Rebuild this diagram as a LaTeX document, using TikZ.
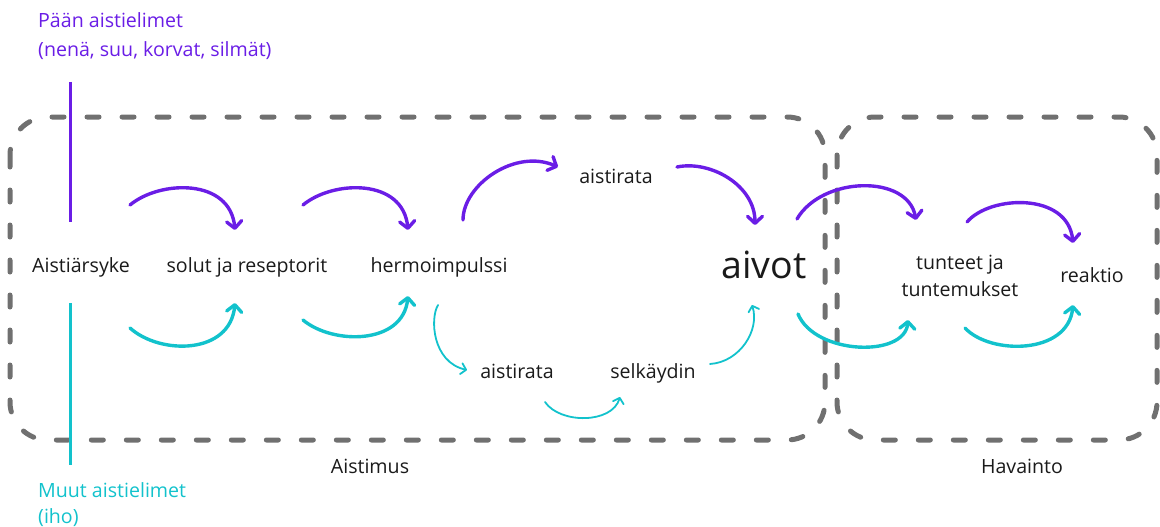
\documentclass[tikz,border=0pt]{standalone}
\usepackage{fontspec}
\setmainfont{Open Sans}
\usetikzlibrary{arrows.meta}
\definecolor{vio}{HTML}{6A1DE6}
\definecolor{cya}{HTML}{12C2CC}
\definecolor{boxgray}{HTML}{707070}
\definecolor{txt}{HTML}{1A1A1A}
\begin{document}
\begin{tikzpicture}[x=1pt,y=-1pt,
  lbl/.style={font=\fontsize{19.6}{27}\selectfont, text=txt, inner sep=0pt, anchor=base},
  dashbox/.style={draw=boxgray, line width=5pt, line cap=round, dash pattern=on 12pt off 23pt, rounded corners=38pt},
  parr/.style={draw=vio, line width=3.4pt, line cap=round, -{Straight Barb[length=7pt,width=15pt,round]}},
  carr/.style={draw=cya, line width=3.4pt, line cap=round, -{Straight Barb[length=7pt,width=15pt,round]}},
  tarr/.style={draw=cya, line width=1.8pt, line cap=round, -{Straight Barb[length=5pt,width=11pt,round]}},
  vline/.style={line width=3pt}]
\useasboundingbox (0,0) rectangle (1160,527);

% boxes
\draw[dashbox] (10,117) rectangle (825,440);
\draw[dashbox] (837,117) rectangle (1157,440);

% vertical lines
\coordinate (pv1) at (70,82);
\coordinate (pv2) at (70,222);
\coordinate (cv1) at (70,303);
\coordinate (cv2) at (70,465);
\draw[vline, vio] (pv1) -- (pv2);
\draw[vline, cya] (cv1) -- (cv2);

% side labels
\node[lbl, anchor=base west, text=vio] (paan) at (38,28) {Pään aistielimet};
\node[lbl, anchor=base west, text=vio] (paan2) at (38,57) {(nenä, suu, korvat, silmät)};
\node[lbl, anchor=base west, text=cya] (muut) at (38,497) {Muut aistielimet};
\node[lbl, anchor=base west, text=cya] (muut2) at (38,523) {(iho)};

% main nodes
\node[lbl] (arsyke) at (81,272) {Aistiärsyke};
\node[lbl] (solut) at (247,272) {solut ja reseptorit};
\node[lbl] (hermo) at (439,272) {hermoimpulssi};
\node[lbl] (rata1) at (616,183) {aistirata};
\node[lbl, font=\fontsize{37.5}{40}\selectfont] (aivot) at (764,278) {aivot};
\node[lbl] (rata2) at (517,378) {aistirata};
\node[lbl] (selka) at (653,378) {selkäydin};
\node[lbl] (tunteet) at (960,269) {tunteet ja};
\node[lbl] (tunteet2) at (960,296) {tuntemukset};
\node[lbl] (reaktio) at (1092,282) {reaktio};
\node[lbl] (aistimus) at (370,473) {Aistimus};
\node[lbl] (havainto) at (1022,473) {Havainto};

% arrow end points
\coordinate (p1a) at (130,205); \coordinate (p1b) at (235,230);
\coordinate (p2a) at (303,205); \coordinate (p2b) at (408,230);
\coordinate (p3a) at (463,220); \coordinate (p3b) at (558,167);
\coordinate (p4a) at (677,167); \coordinate (p4b) at (755,225);
\coordinate (p5a) at (797,219); \coordinate (p5b) at (916,220);
\coordinate (p6a) at (967,222); \coordinate (p6b) at (1073,243);
\coordinate (c1a) at (130,328); \coordinate (c1b) at (235,303);
\coordinate (c2a) at (303,320); \coordinate (c2b) at (408,296);
\coordinate (c3a) at (438,305); \coordinate (c3b) at (467,370);
\coordinate (c4a) at (545,402); \coordinate (c4b) at (620,397);
\coordinate (c5a) at (710,364); \coordinate (c5b) at (752,305);
\coordinate (c6a) at (798,314); \coordinate (c6b) at (908,320);
\coordinate (c7a) at (965,328); \coordinate (c7b) at (1073,305);

% purple arrows
\draw[parr] (p1a) .. controls (160,180) and (230,178) .. (p1b);
\draw[parr] (p2a) .. controls (333,180) and (403,178) .. (p2b);
\draw[parr] (p3a) .. controls (463,185) and (515,148) .. (p3b);
\draw[parr] (p4a) .. controls (710,160) and (755,185) .. (p4b);
\draw[parr] (p5a) .. controls (822,176) and (908,174) .. (p5b);
\draw[parr] (p6a) .. controls (990,195) and (1068,192) .. (p6b);

% cyan arrows
\draw[carr] (c1a) .. controls (160,355) and (230,355) .. (c1b);
\draw[carr] (c2a) .. controls (333,345) and (403,345) .. (c2b);
\draw[tarr] (c3a) .. controls (430,318) and (432,362) .. (c3b);
\draw[tarr] (c4a) .. controls (560,424) and (612,424) .. (c4b);
\draw[tarr] (c5a) .. controls (740,362) and (760,330) .. (c5b);
\draw[carr] (c6a) .. controls (815,355) and (905,358) .. (c6b);
\draw[carr] (c7a) .. controls (990,355) and (1068,355) .. (c7b);
\end{tikzpicture}
\end{document}
